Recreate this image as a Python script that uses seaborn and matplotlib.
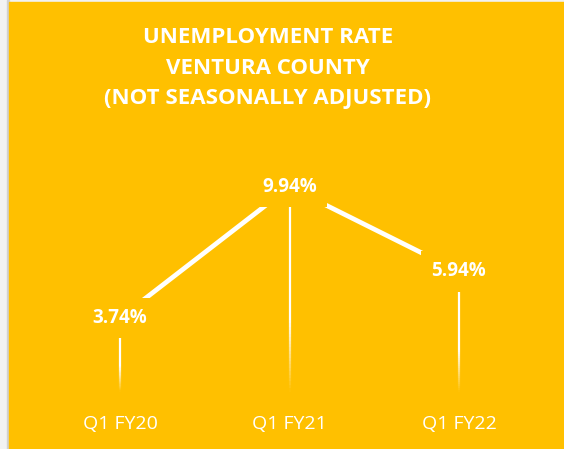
import matplotlib
matplotlib.use('Agg')
import matplotlib.pyplot as plt
import seaborn as sns
import numpy as np
import pandas as pd

quarters = ['Q1 FY20', 'Q1 FY21', 'Q1 FY22']
rates = [3.74, 9.94, 5.94]
labels = ['3.74%', '9.94%', '5.94%']
title_lines = ['UNEMPLOYMENT RATE', 'VENTURA COUNTY', '(NOT SEASONALLY ADJUSTED)']

gold = '#FFC000'

sns.set_theme(style='white')
plt.rcParams['font.family'] = ['Open Sans', 'DejaVu Sans']

W, H = 564, 449
fig = plt.figure(figsize=(W / 100, H / 100), dpi=100)
fig.patch.set_facecolor('#F2F2F2')

# gold card with thin grey edge
fig.patches.append(plt.Rectangle((7 / W, 0), 2 / W, 1, transform=fig.transFigure,
                                 color='#D0D0D0', zorder=-2))
fig.patches.append(plt.Rectangle((9 / W, 0), 1 - 9 / W, 1 - 2 / H, transform=fig.transFigure,
                                 color=gold, zorder=-1))

ax = fig.add_axes([35.25 / W, 52 / H, 508.5 / W, 247 / H])
ax.patch.set_alpha(0)
ax.set_zorder(2)

df = pd.DataFrame({'quarter': quarters, 'rate': rates})
sns.lineplot(data=df, x='quarter', y='rate', color='white', lw=3.4, ax=ax, zorder=2,
             solid_capstyle='butt')

# fading drop lines
for i, v in enumerate(rates):
    bottom = 0.25
    n = 60
    edges = np.linspace(bottom, v, n + 1)
    for k in range(n):
        frac = (k + 0.5) / n
        ax.plot([i, i], [edges[k], edges[k + 1]], color='white', lw=1.6,
                alpha=min(1.0, frac * 2.8), solid_capstyle='butt', zorder=1)

for i, (v, t) in enumerate(zip(rates, labels)):
    ax.text(i, v, t, ha='center', va='center', color='white', fontsize=13.5,
            fontweight='bold', zorder=3,
            bbox=dict(boxstyle='square,pad=0.55', fc=gold, ec='none'))

ax.set_xlim(-0.5, 2.5)
ax.set_ylim(0, 247 / 21.13)
ax.set_xlabel('')
ax.set_ylabel('')
ax.set_yticks([])
ax.tick_params(axis='x', length=0, pad=13, labelsize=14, labelcolor='white')
sns.despine(ax=ax, left=True, bottom=True)

for j, line in enumerate(title_lines):
    fig.text(268 / W, 1 - (37.5 + 30.5 * j) / H, line, ha='center', va='center',
             color='white', fontsize=16, fontweight='bold', zorder=3)

fig.savefig('out.png', dpi=100, facecolor=fig.get_facecolor())
